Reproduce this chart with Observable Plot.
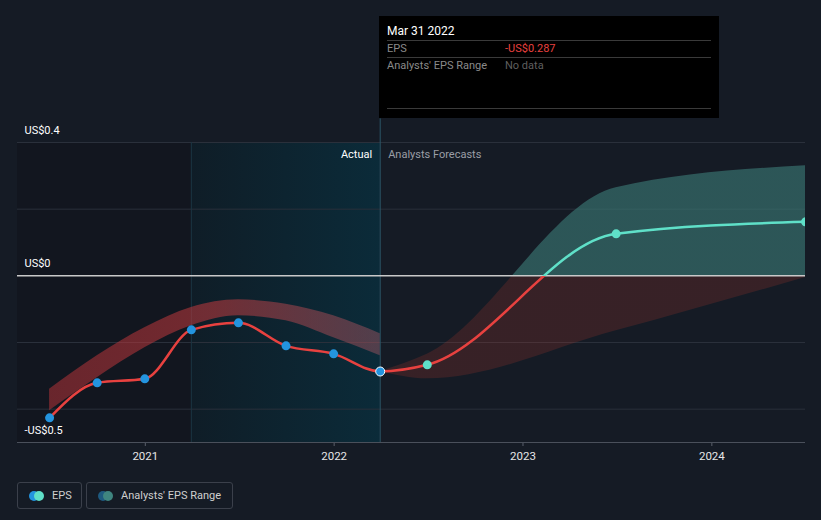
<!DOCTYPE html>
<html><head><meta charset="utf-8">
<script src="https://cdn.jsdelivr.net/npm/d3@7"></script>
<script src="https://cdn.jsdelivr.net/npm/@observablehq/plot@0.6"></script>
<style>
body{margin:0;background:#151b25;font-family:Roboto,"Open Sans",sans-serif;}
#wrap{position:relative;width:821px;height:520px;overflow:hidden;}
#chart{position:absolute;left:0;top:0;}
#tip{position:absolute;left:379px;top:16px;width:340px;height:102px;background:#000;}
#tip .t{position:absolute;left:8px;top:8px;color:#fff;font-size:12px;}
#tip .l{position:absolute;left:8px;width:324px;border-top:1px solid #3a3a3a;}
#tip .k{position:absolute;left:8px;color:#8a8a8a;font-size:11px;}
#tip .v{position:absolute;left:126px;font-size:11px;}
#legend{position:absolute;left:17px;top:482px;display:flex;gap:4px;}
.item{box-sizing:border-box;height:27px;border:1px solid #3b404b;border-radius:3px;display:flex;align-items:center;padding:0 0 0 11px;color:#cfcfcf;font-size:11px;white-space:nowrap;overflow:hidden;}
.ic{position:relative;width:15px;height:10px;margin-right:8px;flex:none;}
.ic span{position:absolute;top:0;width:10px;height:10px;border-radius:50%;}
</style></head><body>
<div id="wrap">
<div id="chart"></div>
<div id="tip">
  <div class="t">Mar 31 2022</div>
  <div class="l" style="top:24px"></div>
  <div class="k" style="top:26px">EPS</div>
  <div class="v" style="top:26px;color:#e8413f">-US$0.287</div>
  <div class="l" style="top:41px"></div>
  <div class="k" style="top:43px">Analysts' EPS Range</div>
  <div class="v" style="top:43px;color:#5f5f5f">No data</div>
  <div class="l" style="top:92px"></div>
</div>
<div id="legend">
  <div class="item" style="width:65px"><div class="ic"><span style="left:0;background:#2394df"></span><span style="left:5px;background:#5fe0c8"></span></div>EPS</div>
  <div class="item" style="width:147px"><div class="ic"><span style="left:0;background:#1e5a80"></span><span style="left:5px;background:#3f8580"></span></div>Analysts' EPS Range</div>
</div>
</div>
<script>
// Actual EPS (quarterly)
const actualDates = ["2020-06-30","2020-09-30","2020-12-31","2021-03-31","2021-06-30","2021-09-30","2021-12-31","2022-03-31"];
const actualEps   = [-0.426,-0.321,-0.309,-0.162,-0.141,-0.210,-0.234,-0.287];
const histLow     = [-0.405,-0.306,-0.216,-0.150,-0.120,-0.135,-0.186,-0.240];
const histHigh    = [-0.340,-0.240,-0.156,-0.095,-0.072,-0.085,-0.120,-0.174];
// Analyst forecasts
const fcDates = ["2022-03-31","2022-06-30","2023-06-30","2024-06-30"];
const fcEps   = [-0.287,-0.267,0.126,0.162];
const fcLow   = [-0.287,-0.309,-0.165,-0.005];
const fcHigh  = [-0.287,-0.235,0.264,0.330];
// Axis
const yearTicks = ["2021-01-01","2022-01-01","2023-01-01","2024-01-01"];
const gridValues = [0.4,0.2,-0.2,-0.4];
const yLabels = [{v:0.4,t:"US$0.4"},{v:0,t:"US$0"},{v:-0.5,t:"-US$0.5"}];
const xStart = "2020-04-29", xEnd = "2024-06-30";
const pastStart = "2021-03-31", nowDate = "2022-03-31";

const D = s => new Date(s + "T00:00:00Z");
const actual = actualDates.map((d,i)=>({date:D(d),eps:actualEps[i],lo:histLow[i],hi:histHigh[i]}));
const fc = fcDates.map((d,i)=>({date:D(d),eps:fcEps[i],lo:fcLow[i],hi:fcHigh[i]}));
const epsAll = actual.concat(fc.slice(1));
const regions = [{x1:D(xStart),x2:D(pastStart),y1:-0.5,y2:0.4},{x1:D(pastStart),x2:D(nowDate),y1:-0.5,y2:0.4}];
const vlines = [{x:D(pastStart),y1:-0.5,y2:0.4,s:"#1a3542"},{x:D(nowDate),y1:-0.5,y2:0.471,s:"#2b5667"}];

const chart = Plot.plot({
  width:821, height:470,
  marginLeft:17, marginRight:16, marginTop:142, marginBottom:28,
  style:{background:"transparent", color:"#d8d8d8", fontFamily:"Roboto, sans-serif", fontSize:"11px"},
  x:{type:"utc", domain:[D(xStart),D(xEnd)], ticks:yearTicks.map(D), tickFormat:d3.utcFormat("%Y"), tickSize:4, tickPadding:5, label:null},
  y:{domain:[-0.5,0.4], axis:null},
  marks:[
    Plot.rect(regions.slice(0,1),{x1:"x1",x2:"x2",y1:"y1",y2:"y2",fill:"#12161f"}),
    Plot.rect(regions.slice(1),{x1:"x1",x2:"x2",y1:"y1",y2:"y2",fill:"url(#hlGrad)"}),
    Plot.ruleY(gridValues,{stroke:"#2a303b",strokeWidth:1}),
    Plot.ruleX(vlines,{x:"x",y1:"y1",y2:"y2",stroke:"s",strokeWidth:1}),
    Plot.areaY(actual,{x:"date",y1:"lo",y2:"hi",curve:"monotone-x",fill:"url(#histGrad)"}),
    Plot.areaY(fc,{x:"date",y1:"lo",y2:"hi",curve:"monotone-x",fill:"url(#bandGrad)"}),
    Plot.ruleY([0],{stroke:"#c9c9c9",strokeWidth:1.5}),
    Plot.ruleY([-0.5],{stroke:"#4a505b",strokeWidth:1}),
    Plot.line(epsAll,{x:"date",y:"eps",curve:"monotone-x",stroke:"url(#lineGrad)",strokeWidth:2.5,clip:true}),
    Plot.dot(actual.slice(0,-1),{x:"date",y:"eps",r:4.5,fill:"#2394df"}),
    Plot.dot(actual.slice(-1),{x:"date",y:"eps",r:4.5,fill:"#2394df",stroke:"#ffffff",strokeWidth:1}),
    Plot.dot(fc.slice(1),{x:"date",y:"eps",r:4.5,fill:"#5fe0c8",clip:true}),
    Plot.text(yLabels,{x:()=>D(xStart),y:"v",text:"t",dx:7,dy:-12,textAnchor:"start",fill:"#ffffff",fontSize:11}),
    Plot.text(["Actual"],{x:()=>D(nowDate),y:()=>0.4,text:d=>d,dx:-8,dy:12,textAnchor:"end",fill:"#ffffff",fontSize:11}),
    Plot.text(["Analysts Forecasts"],{x:()=>D(nowDate),y:()=>0.4,text:d=>d,dx:8,dy:12,textAnchor:"start",fill:"#9a9ea6",fontSize:11})
  ]
});
document.getElementById("chart").appendChild(chart);

const svg = d3.select(chart);
const y0 = chart.scale("y").apply(0);
const H = 470, f = y0 / H;
const defs = svg.insert("defs", ":first-child");
function vgrad(id, top, bottom, topOp, botOp){
  const g = defs.append("linearGradient").attr("id",id).attr("gradientUnits","userSpaceOnUse")
    .attr("x1",0).attr("x2",0).attr("y1",0).attr("y2",H);
  g.append("stop").attr("offset",0).attr("stop-color",top).attr("stop-opacity",topOp);
  g.append("stop").attr("offset",f).attr("stop-color",top).attr("stop-opacity",topOp);
  g.append("stop").attr("offset",f).attr("stop-color",bottom).attr("stop-opacity",botOp);
  g.append("stop").attr("offset",1).attr("stop-color",bottom).attr("stop-opacity",botOp);
}
vgrad("lineGrad","#5fe0c8","#e8413f",1,1);
vgrad("bandGrad","#3b7a76","#c0392b",0.62,0.2);
function hgrad(id, stops){
  const g = defs.append("linearGradient").attr("id",id).attr("x1",0).attr("x2",1).attr("y1",0).attr("y2",0);
  stops.forEach(s=>g.append("stop").attr("offset",s[0]).attr("stop-color",s[1]).attr("stop-opacity",s[2]));
}
hgrad("hlGrad",[[0,"#0f1d27",1],[1,"#0b2b39",1]]);
hgrad("histGrad",[[0,"#c0353a",0.5],[0.5,"#c23a3e",0.55],[1,"#b25a66",0.42]]);
svg.selectAll("g[aria-label='x-axis'] text, g[aria-label='x-axis tick label'] text").attr("fill","#e6e6e6").attr("font-size","11.5px");
svg.selectAll("g[aria-label='x-axis'] line, g[aria-label='x-axis tick'] path").attr("stroke","#5a606b");
</script>
</body></html>
